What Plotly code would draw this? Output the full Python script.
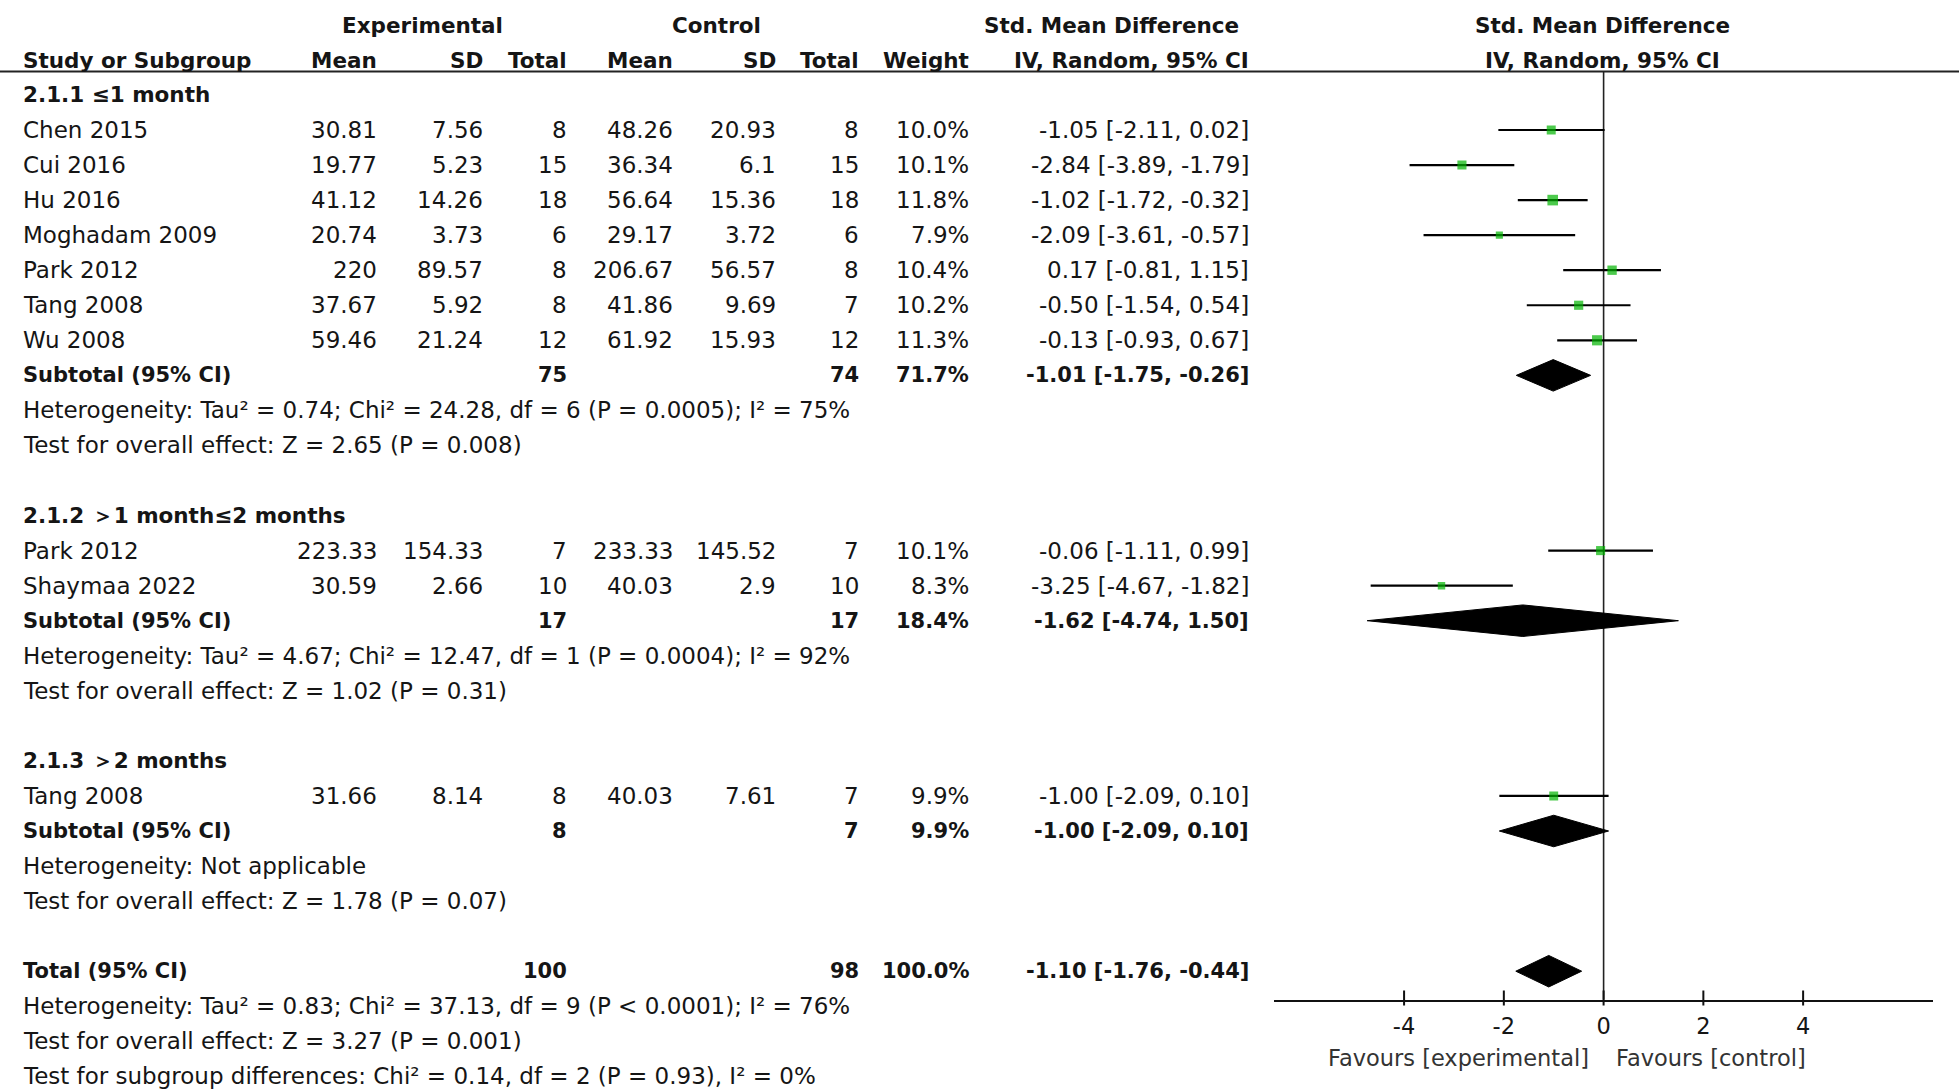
import plotly.graph_objects as go

# ---------------- data ----------------
study_names = ["Chen 2015", "Cui 2016", "Hu 2016", "Moghadam 2009", "Park 2012",
               "Tang 2008", "Wu 2008", "Park 2012", "Shaymaa 2022", "Tang 2008"]
study_rows = [1, 2, 3, 4, 5, 6, 7, 13, 14, 20]
exp_mean = ["30.81", "19.77", "41.12", "20.74", "220", "37.67", "59.46", "223.33", "30.59", "31.66"]
exp_sd = ["7.56", "5.23", "14.26", "3.73", "89.57", "5.92", "21.24", "154.33", "2.66", "8.14"]
exp_n = [8, 15, 18, 6, 8, 8, 12, 7, 10, 8]
ctl_mean = ["48.26", "36.34", "56.64", "29.17", "206.67", "41.86", "61.92", "233.33", "40.03", "40.03"]
ctl_sd = ["20.93", "6.1", "15.36", "3.72", "56.57", "9.69", "15.93", "145.52", "2.9", "7.61"]
ctl_n = [8, 15, 18, 6, 8, 7, 12, 7, 10, 7]
weight = [10.0, 10.1, 11.8, 7.9, 10.4, 10.2, 11.3, 10.1, 8.3, 9.9]
smd = [-1.05, -2.84, -1.02, -2.09, 0.17, -0.50, -0.13, -0.06, -3.25, -1.00]
ci_lo = [-2.11, -3.89, -1.72, -3.61, -0.81, -1.54, -0.93, -1.11, -4.67, -2.09]
ci_hi = [0.02, -1.79, -0.32, -0.57, 1.15, 0.54, 0.67, 0.99, -1.82, 0.10]

group_labels = ["2.1.1 ≤1 month", "2.1.2 ＞1 month≤2 months", "2.1.3 ＞2 months"]
group_rows = [0, 12, 19]

pooled_labels = ["Subtotal (95% CI)", "Subtotal (95% CI)", "Subtotal (95% CI)", "Total (95% CI)"]
pooled_rows = [8, 15, 21, 25]
pooled_exp_n = [75, 17, 8, 100]
pooled_ctl_n = [74, 17, 7, 98]
pooled_weight = [71.7, 18.4, 9.9, 100.0]
pooled_est = [-1.01, -1.62, -1.00, -1.10]
pooled_lo = [-1.75, -4.74, -2.09, -1.76]
pooled_hi = [-0.26, 1.50, 0.10, -0.44]

stat_lines = [
    "Heterogeneity: Tau² = 0.74; Chi² = 24.28, df = 6 (P = 0.0005); I² = 75%",
    "Test for overall effect: Z = 2.65 (P = 0.008)",
    "Heterogeneity: Tau² = 4.67; Chi² = 12.47, df = 1 (P = 0.0004); I² = 92%",
    "Test for overall effect: Z = 1.02 (P = 0.31)",
    "Heterogeneity: Not applicable",
    "Test for overall effect: Z = 1.78 (P = 0.07)",
    "Heterogeneity: Tau² = 0.83; Chi² = 37.13, df = 9 (P < 0.0001); I² = 76%",
    "Test for overall effect: Z = 3.27 (P = 0.001)",
    "Test for subgroup differences: Chi² = 0.14, df = 2 (P = 0.93), I² = 0%",
]
stat_rows = [9, 10, 16, 17, 22, 23, 26, 27, 28]

tick_vals = [-4, -2, 0, 2, 4]
x_range = [-6.6, 6.6]

# ---------------- geometry ----------------
W, H = 1959, 1092
ROW0 = 94.95      # pixel y of row 0
ROWH = 35.05      # pixel height of a row
AXIS_PY = 999.5   # pixel y of the x-axis line
PLOT_L, PLOT_R = 1274.4, 1932.8

FONT = "DejaVu Sans"
FS = 23
FS_B = 21
TXT = "#151515"


def py_row(k):
    return ROW0 + ROWH * k


def px(x):
    return x / W


def py(y):
    return 1 - y / H


annotations = []


def add_text(text, x, row=None, ypix=None, anchor="left", bold=False, size=None, color=TXT):
    y = py(ypix if ypix is not None else py_row(row))
    if size is None:
        size = FS_B if bold else FS
    annotations.append(dict(
        text=f"<b>{text}</b>" if bold else text,
        x=px(x), y=y, xref="paper", yref="paper",
        xanchor=anchor, yanchor="middle", showarrow=False,
        font=dict(family=FONT, size=size, color=color)))


# column right edges (pixels)
COL_LABEL = 20.5
COL_EMEAN, COL_ESD, COL_EN = 378.6, 484.8, 568.5
COL_CMEAN, COL_CSD, COL_CN = 674.7, 778.4, 860.8
COL_W, COL_CI = 970.8, 1250.6

# headers
HDR1, HDR2 = 25, 60
add_text("Experimental", 422, ypix=HDR1, anchor="center", bold=True, size=21.5)
add_text("Control", 716, ypix=HDR1, anchor="center", bold=True, size=21.5)
add_text("Std. Mean Difference", 1111, ypix=HDR1, anchor="center", bold=True, size=21.5)
add_text("Std. Mean Difference", 1602, ypix=HDR1, anchor="center", bold=True, size=21.5)
add_text("Study or Subgroup", COL_LABEL, ypix=HDR2, bold=True, size=21.5)
for t, x in [("Mean", COL_EMEAN), ("SD", COL_ESD), ("Total", COL_EN),
             ("Mean", COL_CMEAN), ("SD", COL_CSD), ("Total", COL_CN),
             ("Weight", COL_W), ("IV, Random, 95% CI", COL_CI)]:
    add_text(t, x, ypix=HDR2, anchor="right", bold=True, size=21.5)
add_text("IV, Random, 95% CI", 1602, ypix=HDR2, anchor="center", bold=True, size=21.5)

for lab, r in zip(group_labels, group_rows):
    add_text(lab, COL_LABEL, row=r, bold=True, size=21.5)

for i, r in enumerate(study_rows):
    add_text(study_names[i], COL_LABEL, row=r)
    add_text(exp_mean[i], COL_EMEAN, row=r, anchor="right")
    add_text(exp_sd[i], COL_ESD, row=r, anchor="right")
    add_text(str(exp_n[i]), COL_EN, row=r, anchor="right")
    add_text(ctl_mean[i], COL_CMEAN, row=r, anchor="right")
    add_text(ctl_sd[i], COL_CSD, row=r, anchor="right")
    add_text(str(ctl_n[i]), COL_CN, row=r, anchor="right")
    add_text(f"{weight[i]:.1f}%", COL_W, row=r, anchor="right")
    add_text(f"{smd[i]:.2f} [{ci_lo[i]:.2f}, {ci_hi[i]:.2f}]", COL_CI, row=r, anchor="right")

for i, r in enumerate(pooled_rows):
    add_text(pooled_labels[i], COL_LABEL, row=r, bold=True)
    add_text(str(pooled_exp_n[i]), COL_EN, row=r, anchor="right", bold=True)
    add_text(str(pooled_ctl_n[i]), COL_CN, row=r, anchor="right", bold=True)
    add_text(f"{pooled_weight[i]:.1f}%", COL_W, row=r, anchor="right", bold=True)
    add_text(f"{pooled_est[i]:.2f} [{pooled_lo[i]:.2f}, {pooled_hi[i]:.2f}]", COL_CI,
             row=r, anchor="right", bold=True)

for t, r in zip(stat_lines, stat_rows):
    add_text(t, COL_LABEL, row=r)

add_text("Favours [experimental]", 1590.5, ypix=1058, anchor="right", size=22.5, color="#333")
add_text("Favours [control]", 1614, ypix=1058, anchor="left", size=22.5, color="#333")

# ---------------- traces ----------------
fig = go.Figure()

# pooled diamonds
for i, r in enumerate(pooled_rows):
    h = 0.45
    fig.add_trace(go.Scatter(
        x=[pooled_lo[i], pooled_est[i], pooled_hi[i], pooled_est[i], pooled_lo[i]],
        y=[r, r - h, r, r + h, r],
        mode="lines", fill="toself", fillcolor="black",
        line=dict(color="black", width=1), hoverinfo="skip", showlegend=False))

# study estimates with CI
fig.add_trace(go.Scatter(
    x=smd, y=study_rows, mode="markers",
    marker=dict(symbol="square", color="#00b400", size=[w * 0.9 for w in weight],
                line=dict(width=0)),
    error_x=dict(type="data", symmetric=False,
                 array=[h - e for h, e in zip(ci_hi, smd)],
                 arrayminus=[e - l for e, l in zip(smd, ci_lo)],
                 color="black", thickness=2.2, width=0),
    showlegend=False, hoverinfo="skip"))

shapes = []
# header rule
shapes.append(dict(type="line", xref="paper", yref="paper", x0=0, x1=1,
                   y0=py(71.5), y1=py(71.5), line=dict(color="#222", width=2)))
# line of no effect
shapes.append(dict(type="line", xref="x", yref="paper", x0=0, x1=0,
                   y0=py(AXIS_PY), y1=py(71.5), line=dict(color="#222", width=1.6), layer="below"))
# crossing tick marks
for t in tick_vals:
    shapes.append(dict(type="line", xref="x", yref="paper", x0=t, x1=t,
                       y0=py(AXIS_PY + 6), y1=py(AXIS_PY - 9), line=dict(color="#111", width=2)))

k_top = -ROW0 / ROWH
k_bot = (AXIS_PY - ROW0) / ROWH

fig.update_layout(
    width=W, height=H,
    margin=dict(l=0, r=0, t=0, b=0),
    paper_bgcolor="white", plot_bgcolor="white",
    annotations=annotations, shapes=shapes,
    xaxis=dict(domain=[px(PLOT_L), px(PLOT_R)], range=x_range,
               tickvals=tick_vals, ticktext=[str(t) for t in tick_vals],
               showgrid=False, zeroline=False, showline=True,
               linecolor="#111", linewidth=2, ticks="",
               ticklabelstandoff=5,
               tickfont=dict(family=FONT, size=22.5, color=TXT),
               anchor="y", fixedrange=True),
    yaxis=dict(domain=[py(AXIS_PY), 1], range=[k_bot, k_top],
               showgrid=False, zeroline=False, showline=False,
               showticklabels=False, ticks="", fixedrange=True),
)

fig.write_html("out.html", post_script="document.body.style.margin='0px';",
               config={"displayModeBar": False})
